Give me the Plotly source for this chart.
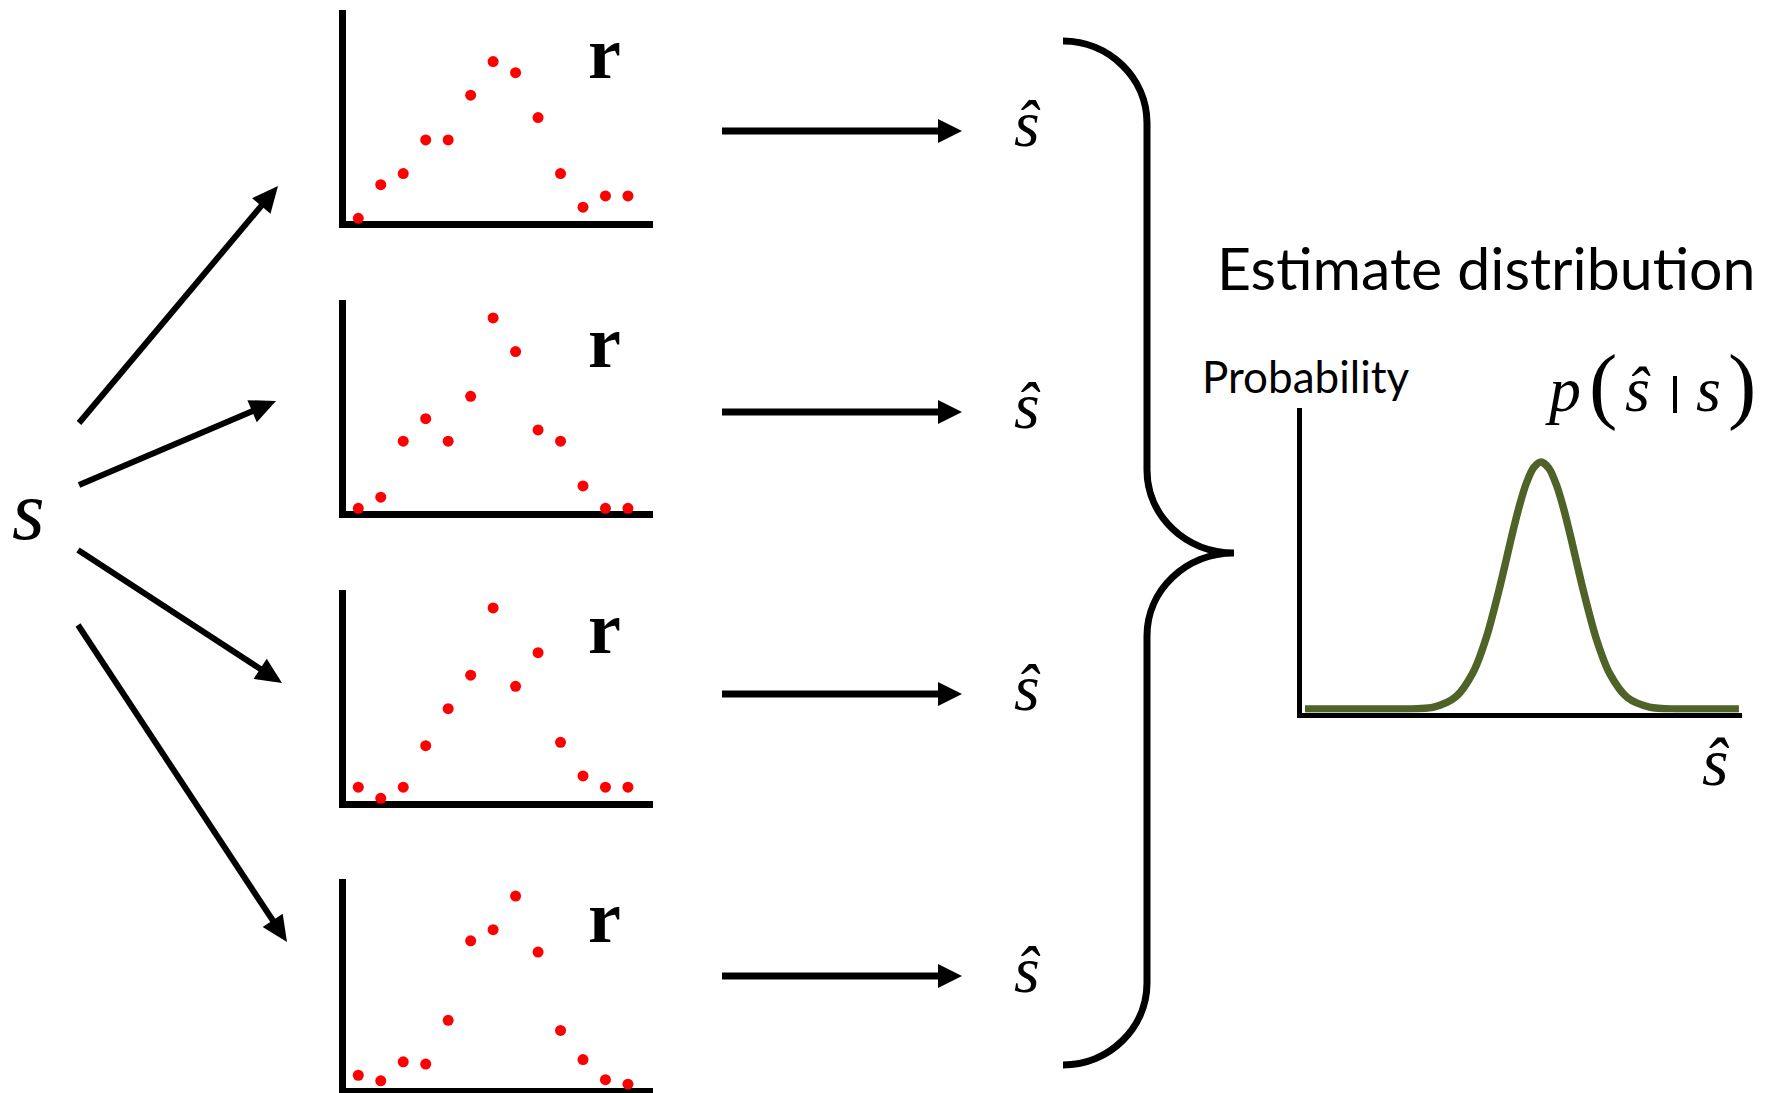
import math
import plotly.graph_objects as go

W, H = 1779, 1093

# ---------------- data ----------------
positions = list(range(13))
resp_1 = [0, 3, 4, 7, 7, 11, 14, 13, 9, 4, 1, 2, 2]
resp_2 = [0, 1, 6, 8, 6, 10, 17, 14, 7, 6, 2, 0, 0]
resp_3 = [1, 0, 1, 4.7, 8, 11, 17, 10, 13, 5, 2, 1, 1]
resp_4 = [0.9, 0.4, 2.1, 1.9, 5.8, 12.9, 13.9, 16.9, 11.9, 4.9, 2.3, 0.5, 0.1]
responses = [resp_1, resp_2, resp_3, resp_4]

est_x = [0.08, 1, 2, 3, 3.5, 3.9, 4.2, 4.5, 4.8, 4.95, 5.1, 5.27, 5.44, 5.62,
         5.8, 5.95, 6.1, 6.4, 6.7, 7.0, 7.4, 7.9, 8.5, 9.2, 9.93]
est_p = [0, 0, 0, 0.008, 0.049, 0.15, 0.292, 0.493, 0.72, 0.825, 0.912, 0.977,
         1.0, 0.974, 0.901, 0.812, 0.705, 0.478, 0.28, 0.142, 0.046, 0.008, 0, 0, 0]

# ---------------- geometry (pixels) ----------------
panel_tops = [10, 300, 590, 879]
panel_axis = [224, 514, 804, 1091]
ax_x = 342          # vertical axis line centre
ax_right = 653
LW = 7
x0_px, dx_px = 358.3, 22.47
dy_px = 11.2
zero_off = 2.17


def X(px):
    return px / W


def Y(py):
    return 1 - py / H


fig = go.Figure()
layout_axes = {}

for i, resp in enumerate(responses):
    n = i + 1
    left = ax_x + LW / 2
    bottom = panel_axis[i] - LW / 2
    top = panel_tops[i]
    xr = [(left - x0_px) / dx_px, (ax_right - x0_px) / dx_px]
    yr = [-zero_off / dy_px, (bottom - top - zero_off) / dy_px]
    xa = "x" if n == 1 else f"x{n}"
    ya = "y" if n == 1 else f"y{n}"
    fig.add_trace(go.Scatter(
        x=positions, y=resp, mode="markers", xaxis=xa, yaxis=ya,
        marker=dict(color="#FF0000", size=11), cliponaxis=False,
        showlegend=False, hoverinfo="skip"))
    common = dict(showgrid=False, zeroline=False, showticklabels=False,
                  ticks="", showline=True, linecolor="black", linewidth=LW,
                  fixedrange=True, layer="below traces")
    layout_axes["xaxis" if n == 1 else f"xaxis{n}"] = dict(
        domain=[X(left), X(ax_right)], range=xr,
        anchor=ya, **common)
    layout_axes["yaxis" if n == 1 else f"yaxis{n}"] = dict(
        domain=[Y(bottom), Y(top)], range=yr,
        anchor=xa, **common)

# distribution panel
g_axis_x, g_axis_y, g_top, g_right, GLW = 1299, 715, 408, 1742, 5
g_left = g_axis_x + GLW / 2
g_bottom = g_axis_y - GLW / 2
g_unit_y = 247
fig.add_trace(go.Scatter(
    x=est_x, y=est_p, mode="lines", xaxis="x5", yaxis="y5",
    line=dict(color="#4F6228", width=7.5, shape="spline", smoothing=0.8),
    cliponaxis=False, showlegend=False, hoverinfo="skip"))
gcommon = dict(showgrid=False, zeroline=False, showticklabels=False, ticks="",
               showline=True, linecolor="black", linewidth=GLW, fixedrange=True)
layout_axes["xaxis5"] = dict(domain=[X(g_left), X(g_right)], range=[0, 10],
                             anchor="y5", **gcommon)
layout_axes["yaxis5"] = dict(domain=[Y(g_bottom), Y(g_top)],
                             range=[-3.5 / g_unit_y, (g_bottom - g_top - 3.5) / g_unit_y],
                             anchor="x5", **gcommon)

# ---------------- decorations ----------------
shapes = []


def arrow(x0, y0, x1, y1, lw, hl, hw):
    L = math.hypot(x1 - x0, y1 - y0)
    ux, uy = (x1 - x0) / L, (y1 - y0) / L
    nx, ny = -uy, ux
    bx, by = x1 - hl * ux, y1 - hl * uy
    shapes.append(dict(type="line", xref="paper", yref="paper",
                       x0=X(x0), y0=Y(y0), x1=X(bx + ux * 2), y1=Y(by + uy * 2),
                       line=dict(color="black", width=lw)))
    path = (f"M {X(x1)},{Y(y1)} L {X(bx + nx * hw)},{Y(by + ny * hw)} "
            f"L {X(bx - nx * hw)},{Y(by - ny * hw)} Z")
    shapes.append(dict(type="path", xref="paper", yref="paper", path=path,
                       fillcolor="black", line=dict(color="black", width=0)))


left_arrows = [(79, 423, 278, 186), (79, 485, 276, 401),
               (78, 550, 282, 683), (78, 625, 287, 942)]
for a in left_arrows:
    arrow(*a, lw=6, hl=26, hw=12)

right_rows = [131, 412, 694, 976]
for yy in right_rows:
    arrow(722, yy, 962, yy, lw=7, hl=24, hw=12)


def P(x, y):
    return f"{X(x):.5f},{Y(y):.5f}"


brace = ("M " + P(1063, 41) + " C " + P(1109, 41) + " " + P(1147, 78) + " " + P(1147, 123)
         + " L " + P(1147, 470)
         + " C " + P(1147, 516) + " " + P(1186, 553) + " " + P(1234, 553)
         + " C " + P(1186, 553) + " " + P(1147, 590) + " " + P(1147, 636)
         + " L " + P(1147, 983)
         + " C " + P(1147, 1028) + " " + P(1109, 1065) + " " + P(1063, 1065))
shapes.append(dict(type="path", xref="paper", yref="paper", path=brace,
                   line=dict(color="black", width=7)))

# conditional bar in p(s^|s)
shapes.append(dict(type="line", xref="paper", yref="paper",
                   x0=X(1675), y0=Y(376), x1=X(1675), y1=Y(413),
                   line=dict(color="black", width=4)))

annotations = []
SERIF = "Liberation Serif"


def txt(x, y, text, size, family=SERIF, color="black"):
    annotations.append(dict(xref="paper", yref="paper", x=X(x), y=Y(y),
                            text=text, showarrow=False, xanchor="center",
                            yanchor="middle",
                            font=dict(size=size, family=family, color=color)))


# left stimulus
txt(29, 511, "<i>s</i>", 84)
# r labels
for yy in [53, 342, 628, 917]:
    txt(604, yy, "<b>r</b>", 74)
# estimates
for yy in right_rows:
    txt(1027, yy - 7, "<i>ŝ</i>", 66)
# distribution title
txt(1486, 267, "Estimate distribution", 59, "Lato")
txt(1305, 376, "Probability", 44, "Lato")
# p(s^|s)
txt(1563, 389, "<i>p</i>", 64)
txt(1603, 384, "(", 85)
txt(1638, 389, "<i>ŝ</i>", 64)
txt(1708, 389, "<i>s</i>", 64)
txt(1742, 384, ")", 85)
# axis label
txt(1716, 762, "<i>ŝ</i>", 68)

fig.update_layout(
    width=W, height=H, margin=dict(l=0, r=0, t=0, b=0),
    paper_bgcolor="white", plot_bgcolor="rgba(0,0,0,0)",
    shapes=shapes, annotations=annotations, showlegend=False,
    **layout_axes)

fig.write_html("out.html", config={"displayModeBar": False},
               post_script="document.body.style.margin='0';document.body.style.overflow='hidden';")
